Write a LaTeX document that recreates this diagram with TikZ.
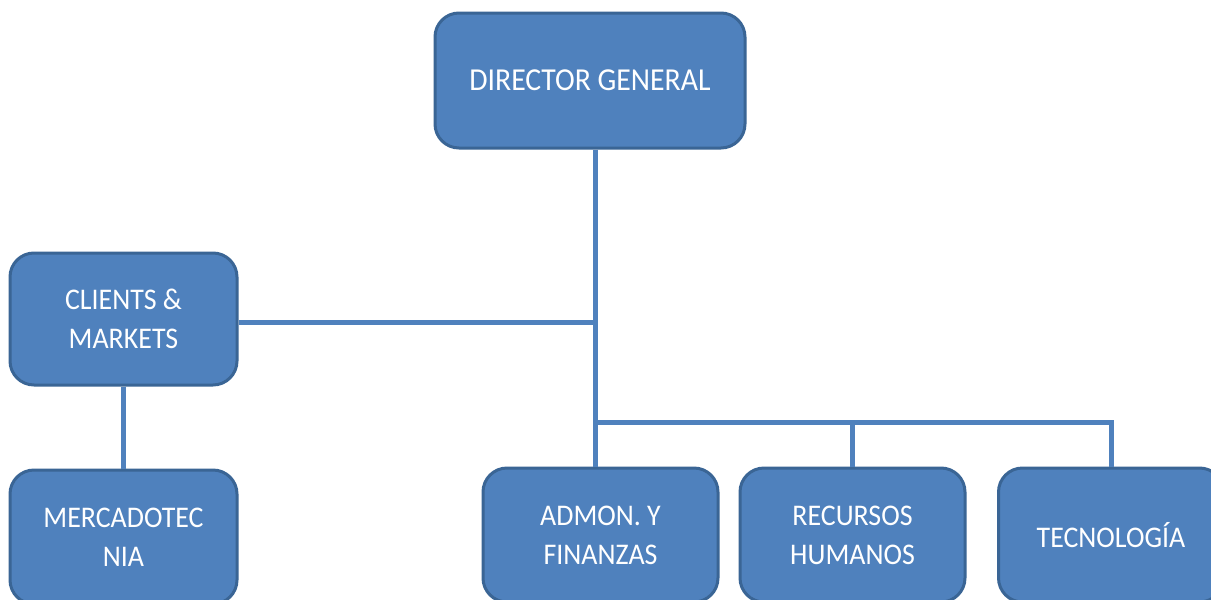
\documentclass[tikz,border=0pt]{standalone}
\usepackage{fontspec}
\setmainfont{Carlito}[FakeStretch=0.93]
\usepackage{tikz}
\usetikzlibrary{positioning,calc}
\usepackage{xcolor}
\definecolor{oblue}{HTML}{4F81BD}
\definecolor{oedge}{HTML}{3A6595}

\begin{document}
\begin{tikzpicture}[x=1pt, y=-1pt,
  unit/.style={draw=oedge, line width=3pt, fill=oblue, rounded corners=24pt,
    text=white, align=center, inner sep=0pt,
    font=\fontsize{30}{39}\selectfont},
  link/.style={draw=oblue, line width=5pt}]
\clip (0,0) rectangle (1211,600);
\fill[white] (0,0) rectangle (1211,600);
% ================= boxes =================
\node[unit, minimum width=310pt, minimum height=135pt, font=\fontsize{32}{39}\selectfont] (dg) at (590,80.5) {DIRECTOR GENERAL};
\node[unit, minimum width=227pt, minimum height=132pt] (cm) at (123.5,319) {CLIENTS \&\\MARKETS};
\node[unit, minimum width=227pt, minimum height=134pt] (mk) at (123.5,537) {MERCADOTEC\\NIA};
\node[unit, minimum width=235pt, minimum height=134pt] (af) at (600.5,535) {ADMON. Y\\FINANZAS};
\node[unit, minimum width=225pt, minimum height=134pt] (rh) at (852.5,535) {RECURSOS\\HUMANOS};
\node[unit, minimum width=225pt, minimum height=134pt] (tc) at (1111,535) {TECNOLOGÍA};
% ================= junctions =================
\coordinate (j1) at (595,322);
\coordinate (j2) at (595,422);
% ================= connectors =================
\draw[link] (dg.south -| j1) -- (af.north -| j1);
\draw[link] (cm.east |- j1) -- (j1);
\draw[link] (cm.south) -- (mk.north);
\draw[link] (j2) -- (j2 -| tc.north) -- (tc.north);
\draw[link] (j2 -| rh.north) -- (rh.north);
\end{tikzpicture}
\end{document}
